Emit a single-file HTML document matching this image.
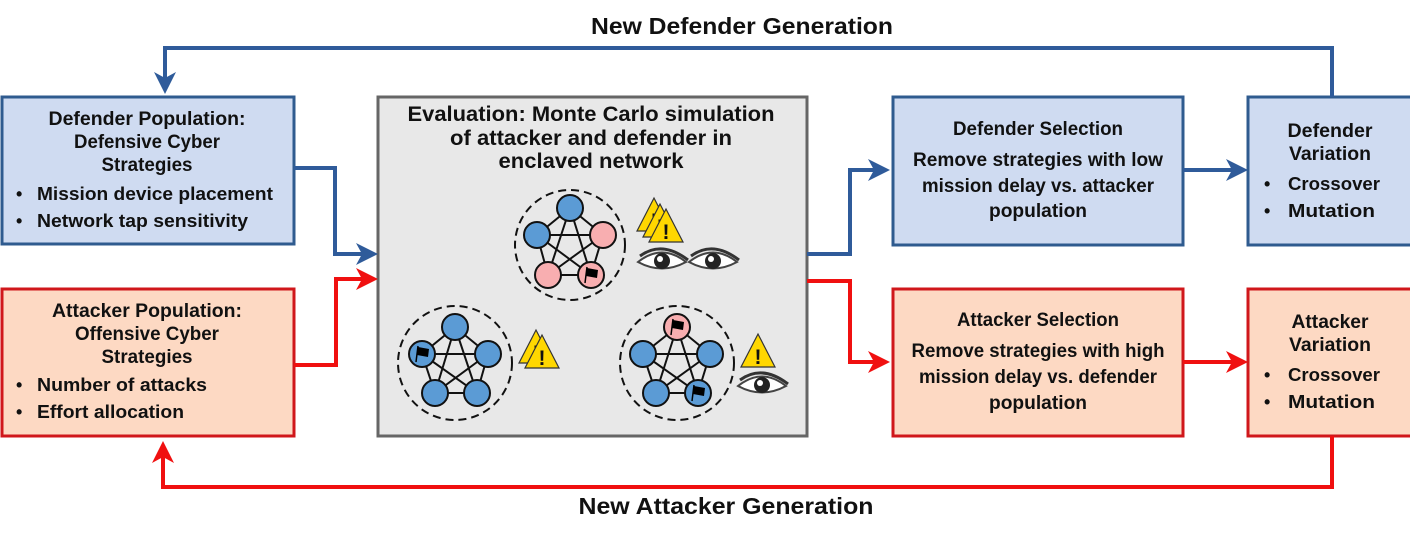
<!DOCTYPE html>
<html><head><meta charset="utf-8"><style>
html,body{margin:0;padding:0;background:#fff;}
svg{display:block}
text{font-family:"Liberation Sans",sans-serif;font-weight:bold;fill:#111;}
</style></head><body>
<svg width="1410" height="535" viewBox="0 0 1410 535" xmlns="http://www.w3.org/2000/svg">
<defs>
<g id="warn"><path d="M0,35 L17,2 L34,35 Z" fill="#ffd700" stroke="#333" stroke-width="1.2"/><text x="17" y="32" font-size="21" text-anchor="middle" style="fill:#111">!</text></g>
<g id="eye"><path d="M-24,2 Q0,-17 24,2 Q0,15 -24,2 Z" fill="#fff" stroke="#444" stroke-width="2"/><circle cx="0" cy="1" r="8" fill="#222"/><circle cx="-2" cy="-1" r="3" fill="#fff"/><path d="M-22,-4 Q0,-20 26,0" fill="none" stroke="#333" stroke-width="3"/></g>
<g id="flag"><path d="M-6,8 L-4,-8" stroke="#000" stroke-width="1.5"/><path d="M-4,-7 L7,-5 L6,3 L-5,1 Z" fill="#000"/></g>
</defs>
<rect x="2" y="97" width="292" height="147" fill="#cfdbf1" stroke="#2f5b8f" stroke-width="3"/>
<rect x="2" y="289" width="292" height="147" fill="#fdd9c3" stroke="#d0171b" stroke-width="3"/>
<rect x="378" y="97" width="429" height="339" fill="#e8e8e8" stroke="#666" stroke-width="3"/>
<rect x="893" y="97" width="290" height="148" fill="#cfdbf1" stroke="#2f5b8f" stroke-width="3"/>
<rect x="1248" y="97" width="164" height="148" fill="#cfdbf1" stroke="#2f5b8f" stroke-width="3"/>
<rect x="893" y="289" width="290" height="147" fill="#fdd9c3" stroke="#d0171b" stroke-width="3"/>
<rect x="1248" y="289" width="164" height="147" fill="#fdd9c3" stroke="#d0171b" stroke-width="3"/>
<g fill="none" stroke="#2f5b9a" stroke-width="4">
<path d="M294,168 H335 V254 H370"/>
<path d="M807,254 H850 V170 H884"/>
<path d="M1183,170 H1242"/>
<path d="M1332,97 V48 H165 V86"/>
</g>
<g fill="#2f5b9a">
<path d="M356,243 L378,254 L356,265 L362,254 Z"/>
<path d="M868,159 L890,170 L868,181 L874,170 Z"/>
<path d="M1226,159 L1248,170 L1226,181 L1232,170 Z"/>
<path d="M154,72 L165,94 L176,72 L165,78 Z"/>
</g>
<g fill="none" stroke="#f01010" stroke-width="4">
<path d="M294,365 H336 V279 H370"/>
<path d="M807,281 H850 V362 H884"/>
<path d="M1183,362 H1242"/>
<path d="M1332,436 V487 H163 V447"/>
</g>
<g fill="#f01010">
<path d="M356,268 L378,279 L356,290 L362,279 Z"/>
<path d="M868,351 L890,362 L868,373 L874,362 Z"/>
<path d="M1226,351 L1248,362 L1226,373 L1232,362 Z"/>
<path d="M152,463 L163,441 L174,463 L163,457 Z"/>
</g>
<text x="742" y="34" font-size="23" text-anchor="middle" textLength="302" lengthAdjust="spacingAndGlyphs">New Defender Generation</text>
<text x="726" y="514" font-size="23" text-anchor="middle" textLength="295" lengthAdjust="spacingAndGlyphs">New Attacker Generation</text>
<g font-size="19" text-anchor="middle">
<text x="147" y="125" textLength="197" lengthAdjust="spacingAndGlyphs">Defender Population:</text>
<text x="147" y="148" textLength="146" lengthAdjust="spacingAndGlyphs">Defensive Cyber</text>
<text x="147" y="171" textLength="91" lengthAdjust="spacingAndGlyphs">Strategies</text>
<text x="147" y="317" textLength="190" lengthAdjust="spacingAndGlyphs">Attacker Population:</text>
<text x="147" y="340" textLength="144" lengthAdjust="spacingAndGlyphs">Offensive Cyber</text>
<text x="147" y="363" textLength="91" lengthAdjust="spacingAndGlyphs">Strategies</text>
<text x="1038" y="135" textLength="170" lengthAdjust="spacingAndGlyphs">Defender Selection</text>
<text x="1038" y="166" textLength="250" lengthAdjust="spacingAndGlyphs">Remove strategies with low</text>
<text x="1038" y="192" textLength="232" lengthAdjust="spacingAndGlyphs">mission delay vs. attacker</text>
<text x="1038" y="217" textLength="98" lengthAdjust="spacingAndGlyphs">population</text>
<text x="1038" y="326" textLength="162" lengthAdjust="spacingAndGlyphs">Attacker Selection</text>
<text x="1038" y="357" textLength="253" lengthAdjust="spacingAndGlyphs">Remove strategies with high</text>
<text x="1038" y="383" textLength="238" lengthAdjust="spacingAndGlyphs">mission delay vs. defender</text>
<text x="1038" y="409" textLength="98" lengthAdjust="spacingAndGlyphs">population</text>
<text x="1330" y="137" textLength="85" lengthAdjust="spacingAndGlyphs">Defender</text>
<text x="1330" y="160" textLength="82" lengthAdjust="spacingAndGlyphs">Variation</text>
<text x="1330" y="328" textLength="77" lengthAdjust="spacingAndGlyphs">Attacker</text>
<text x="1330" y="351" textLength="82" lengthAdjust="spacingAndGlyphs">Variation</text>
</g>
<g font-size="18">
<text x="16" y="200">•</text><text x="37" y="200" textLength="236" lengthAdjust="spacingAndGlyphs">Mission device placement</text>
<text x="16" y="227">•</text><text x="37" y="227" textLength="211" lengthAdjust="spacingAndGlyphs">Network tap sensitivity</text>
<text x="16" y="391">•</text><text x="37" y="391" textLength="170" lengthAdjust="spacingAndGlyphs">Number of attacks</text>
<text x="16" y="418">•</text><text x="37" y="418" textLength="147" lengthAdjust="spacingAndGlyphs">Effort allocation</text>
<text x="1264" y="190">•</text><text x="1288" y="190" textLength="92" lengthAdjust="spacingAndGlyphs">Crossover</text>
<text x="1264" y="217">•</text><text x="1288" y="217" textLength="87" lengthAdjust="spacingAndGlyphs">Mutation</text>
<text x="1264" y="381">•</text><text x="1288" y="381" textLength="92" lengthAdjust="spacingAndGlyphs">Crossover</text>
<text x="1264" y="408">•</text><text x="1288" y="408" textLength="87" lengthAdjust="spacingAndGlyphs">Mutation</text>
</g>
<g font-size="21" text-anchor="middle">
<text x="591" y="121" textLength="367" lengthAdjust="spacingAndGlyphs">Evaluation:  Monte Carlo simulation</text>
<text x="591" y="145" textLength="282" lengthAdjust="spacingAndGlyphs">of attacker and defender in</text>
<text x="591" y="168" textLength="185" lengthAdjust="spacingAndGlyphs">enclaved network</text>
</g>
<g stroke="#111" stroke-width="2">
<circle cx="570" cy="245" r="55" fill="none" stroke-dasharray="8,5"/>
<path d="M570,208 L537,235 L548,275 L591,275 L603,235 Z M570,208 L548,275 M570,208 L591,275 M537,235 L603,235 M537,235 L591,275 M603,235 L548,275" fill="none"/>
<circle cx="570" cy="208" r="13" fill="#5b9bd5"/><circle cx="537" cy="235" r="13" fill="#5b9bd5"/>
<circle cx="603" cy="235" r="13" fill="#f8aeb0"/><circle cx="548" cy="275" r="13" fill="#f8aeb0"/><circle cx="591" cy="275" r="13" fill="#f8aeb0"/>
<circle cx="455" cy="363" r="57" fill="none" stroke-dasharray="8,5"/>
<path d="M455,327 L422,354 L435,393 L477,393 L488,354 Z M455,327 L435,393 M455,327 L477,393 M422,354 L488,354 M422,354 L477,393 M488,354 L435,393" fill="none"/>
<circle cx="455" cy="327" r="13" fill="#5b9bd5"/><circle cx="422" cy="354" r="13" fill="#5b9bd5"/><circle cx="488" cy="354" r="13" fill="#5b9bd5"/><circle cx="435" cy="393" r="13" fill="#5b9bd5"/><circle cx="477" cy="393" r="13" fill="#5b9bd5"/>
<circle cx="677" cy="363" r="57" fill="none" stroke-dasharray="8,5"/>
<path d="M677,327 L643,354 L656,393 L698,393 L710,354 Z M677,327 L656,393 M677,327 L698,393 M643,354 L710,354 M643,354 L698,393 M710,354 L656,393" fill="none"/>
<circle cx="677" cy="327" r="13" fill="#f8aeb0"/><circle cx="643" cy="354" r="13" fill="#5b9bd5"/><circle cx="710" cy="354" r="13" fill="#5b9bd5"/><circle cx="656" cy="393" r="13" fill="#5b9bd5"/><circle cx="698" cy="393" r="13" fill="#5b9bd5"/>
</g>
<use href="#flag" x="591" y="275"/><use href="#flag" x="422" y="354"/><use href="#flag" x="677" y="327"/><use href="#flag" x="698" y="393"/>
<use href="#warn" x="637" y="196"/><use href="#warn" x="643" y="202"/><use href="#warn" x="649" y="207"/>
<use href="#warn" x="519" y="328"/><use href="#warn" x="525" y="333"/>
<use href="#warn" x="741" y="332"/>
<use href="#eye" x="662" y="260"/><use href="#eye" x="713" y="260"/><use href="#eye" x="762" y="384"/>
</svg>
</body></html>
